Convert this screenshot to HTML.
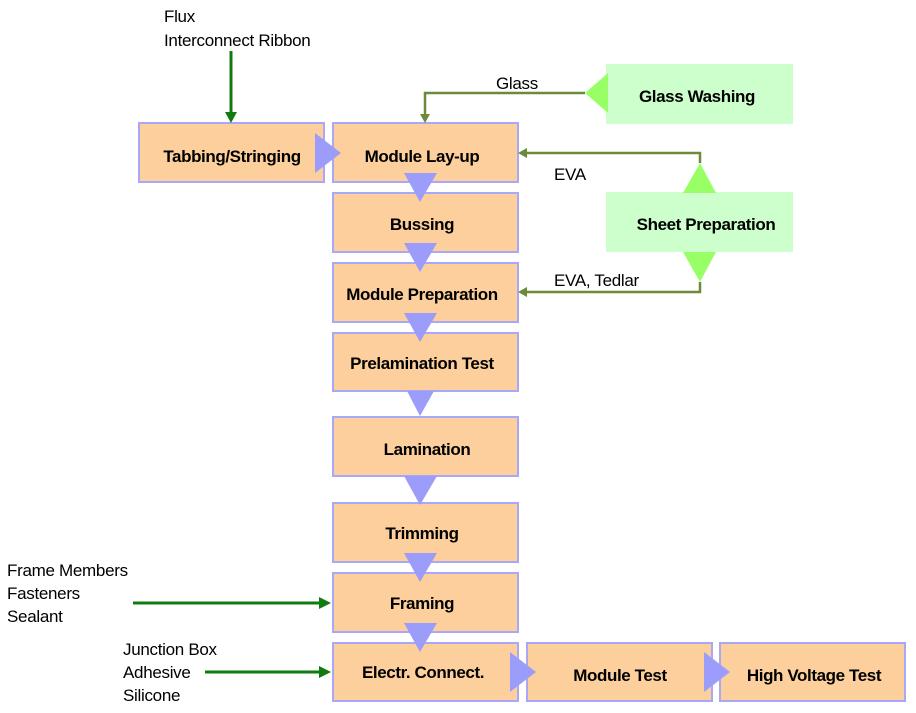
<!DOCTYPE html>
<html><head><meta charset="utf-8"><style>
html,body{margin:0;padding:0;background:#fff;}
svg{display:block;}
.b{font-family:"Liberation Sans",sans-serif;font-weight:bold;font-size:17px;letter-spacing:-0.4px;fill:#000;}
.t{font-family:"Liberation Sans",sans-serif;font-size:17px;letter-spacing:-0.3px;fill:#000;}
</style></head><body>
<svg width="916" height="713" viewBox="0 0 916 713" xmlns="http://www.w3.org/2000/svg">
<g fill="#fccf9c" stroke="#a9a8f8" stroke-width="2">
<rect x="139" y="123" width="185" height="59"/>
<rect x="333" y="123" width="185" height="59"/>
<rect x="333" y="193" width="185" height="59"/>
<rect x="333" y="263" width="185" height="59"/>
<rect x="333" y="333" width="185" height="58"/>
<rect x="333" y="417" width="185" height="59"/>
<rect x="333" y="503" width="185" height="59"/>
<rect x="333" y="573" width="185" height="59"/>
<rect x="333" y="643" width="185" height="58"/>
<rect x="527" y="643" width="185" height="58"/>
<rect x="720" y="643" width="185" height="58"/>
</g>
<rect x="606" y="64" width="187" height="60" fill="#ccffcc"/>
<rect x="606" y="192" width="187" height="60" fill="#ccffcc"/>
<g fill="#9c9cfa">
<polygon points="315,133 341,153 315,173"/>
<polygon points="404,173 437,173 420,202"/>
<polygon points="404,243 437,243 420,272"/>
<polygon points="404,313 437,313 420,342"/>
<polygon points="407,391 434,391 420,416"/>
<polygon points="404,476 437,476 420,505"/>
<polygon points="404,553 437,553 420,582"/>
<polygon points="404,623 437,623 420,652"/>
<polygon points="510,652 536,672 510,692"/>
<polygon points="704,652 730,672 704,692"/>
</g>
<g fill="#99ff66">
<polygon points="608,73 608,113 585,93"/>
<polygon points="683,193 716,193 700,163"/>
<polygon points="683,252 716,252 700,282"/>
</g>
<g stroke="#6b8a3a" stroke-width="2.5" fill="none">
<polyline points="585,93 425,93 425,117"/>
<polyline points="700,163 700,153 523,153"/>
<polyline points="700,282 700,292 523,292"/>
</g>
<g fill="#6b8a3a">
<polygon points="420,114 430,114 425,123"/>
<polygon points="518,153 527,148 527,158"/>
<polygon points="518,292 527,287 527,297"/>
</g>
<g stroke="#117a11" stroke-width="3">
<line x1="231" y1="51" x2="231" y2="114"/>
<line x1="133" y1="603" x2="321" y2="603"/>
<line x1="205" y1="672" x2="321" y2="672"/>
</g>
<g fill="#117a11">
<polygon points="225,112 237,112 231,123"/>
<polygon points="319,597 319,609 331,603"/>
<polygon points="319,666 319,678 331,672"/>
</g>
<g class="b" text-anchor="middle">
<text x="232" y="162">Tabbing/Stringing</text>
<text x="422" y="162">Module Lay-up</text>
<text x="422" y="230">Bussing</text>
<text x="422" y="300">Module Preparation</text>
<text x="422" y="369">Prelamination Test</text>
<text x="427" y="455">Lamination</text>
<text x="422" y="539">Trimming</text>
<text x="422" y="609">Framing</text>
<text x="423" y="678">Electr. Connect.</text>
<text x="620" y="681">Module Test</text>
<text x="814" y="681">High Voltage Test</text>
<text x="697" y="102">Glass Washing</text>
<text x="706" y="230">Sheet Preparation</text>
</g>
<g class="t">
<text x="164" y="22">Flux</text>
<text x="164" y="46">Interconnect Ribbon</text>
<text x="496" y="89">Glass</text>
<text x="554" y="180">EVA</text>
<text x="554" y="286">EVA, Tedlar</text>
<text x="7" y="576">Frame Members</text>
<text x="7" y="599">Fasteners</text>
<text x="7" y="622">Sealant</text>
<text x="123" y="655">Junction Box</text>
<text x="123" y="678">Adhesive</text>
<text x="123" y="701">Silicone</text>
</g>
</svg>
</body></html>
